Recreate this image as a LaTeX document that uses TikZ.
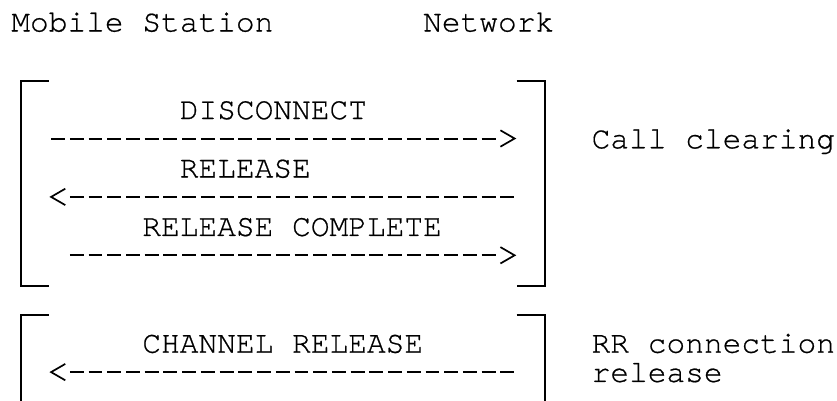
\documentclass[tikz,border=0pt]{standalone}
\usepackage{fontspec}
\newfontfamily\cour[FakeBold=0.6]{TeX Gyre Cursor}
\begin{document}
\begin{tikzpicture}[x=1pt,y=-1pt,
  lbl/.style={anchor=base west, inner sep=0pt, outer sep=0pt, font={\cour\fontsize{31.2}{31.2}\selectfont}},
  brk/.style={line width=2pt, line cap=butt, line join=miter},
  msg/.style={line width=2pt, dash pattern=on 13.9pt off 4.82pt},
  chev/.style={line width=1.7pt, line join=miter, line cap=butt}]
\useasboundingbox (0,0) rectangle (837,400);
% header
\node[lbl] (ms) at (11.3,31.5) {Mobile Station};
\node[lbl] (nw) at (423.14,31.5) {Network};
% first group
\draw[brk] (48.9,81) -- (20.7,81) -- (20.7,286) -- (48.9,286);
\draw[brk] (516.7,81) -- (544.8,81) -- (544.8,286) -- (516.7,286);
\node[lbl] (disc) at (179.78,119.1) {DISCONNECT};
\node[lbl] (rel)  at (179.78,177.5) {RELEASE};
\node[lbl] (relc) at (142.34,235.9) {RELEASE COMPLETE};
\node[lbl] (cc)   at (591.62,148.3) {Call clearing};
% DISCONNECT  MS -> NW
\coordinate (a1) at (51.14,138.5);
\coordinate (a2) at (495.6,138.5);
\coordinate (at) at (514.6,138.5);
\draw[msg] (a1) -- (a2);
\draw[chev] ([shift={(-14.2,-8.2)}]at) -- (at) -- ([shift={(-14.2,8.2)}]at);
% RELEASE  NW -> MS
\coordinate (b1) at (514.3,196.9);
\coordinate (b2) at (69.86,196.9);
\coordinate (bt) at (51.1,196.9);
\draw[msg] (b2) -- (b1);
\draw[chev] ([shift={(14.2,-8.2)}]bt) -- (bt) -- ([shift={(14.2,8.2)}]bt);
% RELEASE COMPLETE  MS -> NW
\coordinate (c1) at (69.86,255.3);
\coordinate (c2) at (495.6,255.3);
\coordinate (ct) at (514.6,255.3);
\draw[msg] (c1) -- (c2);
\draw[chev] ([shift={(-14.2,-8.2)}]ct) -- (ct) -- ([shift={(-14.2,8.2)}]ct);
% second group
\draw[brk] (48.9,315) -- (20.7,315) -- (20.7,401);
\draw[brk] (516.7,315) -- (544.8,315) -- (544.8,401);
\node[lbl] (chrel) at (142.34,352.7) {CHANNEL RELEASE};
\node[lbl] (rr)    at (591.62,352.7) {RR connection};
\node[lbl] (rrel)  at (591.62,381.9) {release};
% CHANNEL RELEASE  NW -> MS
\coordinate (d1) at (514.3,372.1);
\coordinate (d2) at (69.86,372.1);
\coordinate (dt) at (51.1,372.1);
\draw[msg] (d2) -- (d1);
\draw[chev] ([shift={(14.2,-8.2)}]dt) -- (dt) -- ([shift={(14.2,8.2)}]dt);
\end{tikzpicture}
\end{document}
